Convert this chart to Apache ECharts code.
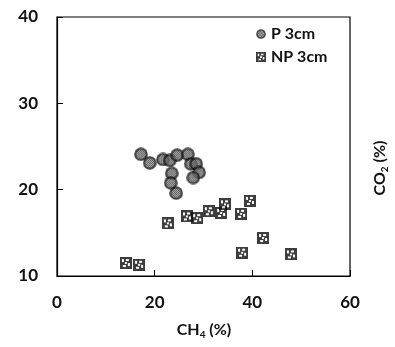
<!DOCTYPE html>
<html>
<head>
<meta charset="utf-8">
<script src="https://cdn.jsdelivr.net/npm/echarts@6/dist/echarts.min.js"></script>
<style>
  html, body { margin: 0; padding: 0; background: #fff; }
  #chart { width: 395px; height: 347px; }
</style>
</head>
<body>
<div id="chart"></div>
<script>
// CH4 (%) / CO2 (%) pairs
const pCH4 = [17.2, 19.0, 21.7, 23.1, 24.6, 26.8, 27.4, 28.5, 29.1, 27.9, 23.5, 23.3, 24.4];
const pCO2 = [24.1, 23.1, 23.5, 23.4, 24.0, 24.1, 23.0, 23.0, 22.0, 21.4, 21.9, 20.8, 19.6];
const npCH4 = [14.1, 16.8, 22.7, 26.6, 28.7, 31.1, 33.6, 34.4, 37.7, 39.5, 42.2, 37.9, 47.9];
const npCO2 = [11.5, 11.3, 16.1, 16.9, 16.7, 17.5, 17.3, 18.3, 17.2, 18.7, 14.4, 12.7, 12.5];
const xTicks = [0, 20, 40, 60];
const yTicks = [10, 20, 30, 40];

const font = 'Lato';

// marker pictures, drawn 1:1: dark ring with grey checker, black square with white pinwheel
function circleMarker() {
  const c = document.createElement('canvas');
  c.width = 14; c.height = 14;
  const g = c.getContext('2d');
  g.beginPath(); g.arc(7, 7, 6.8, 0, Math.PI * 2);
  g.fillStyle = '#151515'; g.fill();
  g.save();
  g.beginPath(); g.arc(7, 7, 4.6, 0, Math.PI * 2); g.clip();
  for (let y = 0; y < 14; y++) {
    for (let x = 0; x < 14; x++) {
      g.fillStyle = (x + y) % 2 ? '#2a2a2a' : '#a8a8a8';
      g.fillRect(x, y, 1, 1);
    }
  }
  g.restore();
  return 'image://' + c.toDataURL();
}

function squareMarker() {
  const c = document.createElement('canvas');
  c.width = 12; c.height = 12;
  const g = c.getContext('2d');
  g.fillStyle = '#0d0d0d'; g.fillRect(0, 0, 12, 12);
  g.fillStyle = '#fff';
  [[2, 2, 2, 3], [6, 2, 3, 2], [8, 6, 2, 3], [3, 8, 3, 2], [5, 5, 2, 2]]
    .forEach(([x, y, w, h]) => g.fillRect(x, y, w, h));
  return 'image://' + c.toDataURL();
}

const zip = (a, b) => a.map((v, i) => [v, b[i]]);

const rich = {
  a: { font: 'bold 16px ' + font, fill: '#111' },
  s: { font: 'bold 10px ' + font, fill: '#111', padding: [9, 0, 0, 0] }
};

const chart = echarts.init(document.getElementById('chart'));
chart.setOption({
  backgroundColor: '#fff',
  animation: false,
  grid: {
    left: 57, right: 45, top: 17, bottom: 71,
    outerBoundsMode: 'none', containLabel: false,
    show: true, borderColor: '#000', borderWidth: 1.2
  },
  legend: {
    orient: 'vertical',
    left: 251, top: 21,
    itemWidth: 10, itemHeight: 10, itemGap: 7,
    textStyle: { fontFamily: font, fontWeight: 'bold', fontSize: 16, color: '#111' },
    data: ['P 3cm', 'NP 3cm']
  },
  // axis titles with subscripts
  graphic: [{
    type: 'text', x: 204, y: 330,
    style: { text: '{a|CH}{s|4}{a| (%)}', rich, align: 'center', verticalAlign: 'middle' }
  }, {
    type: 'text', x: 380, y: 168, rotation: Math.PI / 2,
    style: { text: '{a|CO}{s|2}{a| (%)}', rich, align: 'center', verticalAlign: 'middle' }
  }],
  xAxis: {
    type: 'value', min: 0, max: 60, interval: 20,
    axisLine: { show: true, lineStyle: { color: '#000', width: 1.2 } },
    axisTick: { show: true, inside: true, length: 6, lineStyle: { color: '#000' } },
    splitLine: { show: false },
    axisLabel: {
      margin: 18, fontFamily: font, fontWeight: 'bold', fontSize: 17, color: '#111',
      formatter: v => xTicks.includes(v) ? String(v) : ''
    }
  },
  yAxis: {
    type: 'value', min: 10, max: 40, interval: 10,
    axisLine: { show: true, lineStyle: { color: '#000', width: 1.2 } },
    axisTick: { show: true, inside: true, length: 6, lineStyle: { color: '#000' } },
    splitLine: { show: false },
    axisLabel: {
      margin: 19, fontFamily: font, fontWeight: 'bold', fontSize: 17, color: '#111',
      formatter: v => yTicks.includes(v) ? String(v) : ''
    }
  },
  series: [{
    name: 'P 3cm', type: 'scatter', symbol: circleMarker(), symbolSize: 14,
    data: zip(pCH4, pCO2)
  }, {
    name: 'NP 3cm', type: 'scatter', symbol: squareMarker(), symbolSize: 12,
    data: zip(npCH4, npCO2)
  }]
});
</script>
</body>
</html>
